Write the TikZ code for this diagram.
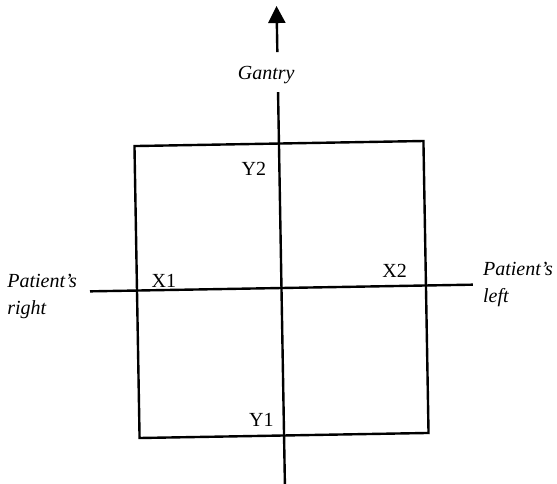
\documentclass[tikz,border=0pt]{standalone}
\usepackage{fontspec}
\setmainfont{Liberation Serif}
\usetikzlibrary{arrows.meta}

\tikzset{
  axisline/.style={line width=2.4pt},
  lbl/.style={font=\fontsize{20}{27}\selectfont,inner sep=0pt},
  side/.style={lbl,font=\fontsize{20}{27}\selectfont\itshape,align=left,anchor=west}
}

\begin{document}
\begin{tikzpicture}[x=1pt,y=-1pt]
\useasboundingbox (0,0) rectangle (557,483);
\begin{scope}[rotate around={1:(281.5,289.5)}]
% field outline
\draw[axisline] (137,143.5) rectangle (426,435.5);
% vertical axis with gantry label
\coordinate (vbot) at (281.5,490);
\coordinate (vtop) at (281.5,6);
\node[lbl,font=\fontsize{20}{27}\selectfont\itshape] (gantry) at (270,75) {Gantry};
\draw[axisline] (vbot) -- (281.5,92);
\draw[axisline,-{Triangle[length=17pt,width=17pt]}] (281.5,52) -- (vtop);
% horizontal axis
\coordinate (hleft) at (90,288);
\coordinate (hright) at (473,288);
\draw[axisline] (hleft) -- (hright);
% jaw labels
\node[lbl] (y2) at (256,168) {Y2};
\node[lbl] (y1) at (259,420) {Y1};
\node[lbl] (x1) at (164,279) {X1};
\node[lbl] (x2) at (395,273) {X2};
% patient orientation
\node[side] (pright) at (7,292) {Patient's\\right};
\node[side] (pleft) at (483,288) {Patient's\\left};
\end{scope}
\end{tikzpicture}
\end{document}
